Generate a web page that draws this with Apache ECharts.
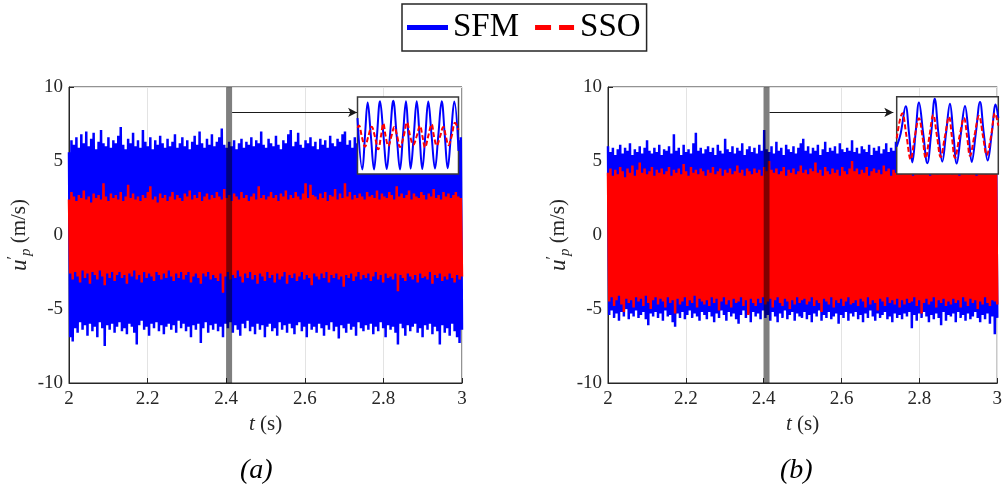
<!DOCTYPE html>
<html>
<head>
<meta charset="utf-8">
<script src="https://cdn.jsdelivr.net/npm/echarts@6/dist/echarts.min.js"></script>
<style>
html,body{margin:0;padding:0;background:#fff;}
#c{width:1005px;height:491px;}
</style>
</head>
<body>
<div id="c"></div>
<script>
// ---------- tick labels ----------
const xTickLabels = ['2', '2.2', '2.4', '2.6', '2.8', '3'];
const yTickLabels = ['-10', '-5', '0', '5', '10'];
const seriesNames = ['SFM', 'SSO'];
const panelLabels = ['(a)', '(b)'];

// time window that is magnified in the insets (s) and arrow level (m/s)
const zoomWindow = [2.4, 2.415];
const arrowLevel = 8.28;
const arrowEndT = 2.733;

// ---------- panel (a): upper / lower peaks of the signal, 160 samples over 2..3 s ----------
const aSFMHi = [5.6,6.4,6.1,6.6,5.9,6.8,6.2,7.0,6.0,6.5,6.9,5.8,6.3,7.1,6.2,6.0,6.6,5.9,6.4,6.2,
6.7,7.3,6.1,5.8,6.5,6.2,6.9,6.0,6.4,5.9,7.1,6.3,6.0,6.6,5.8,6.4,6.1,6.7,6.2,5.9,
6.5,6.0,6.3,6.8,5.9,6.2,6.6,6.0,6.4,5.8,6.3,6.7,6.1,7.0,6.2,5.9,6.5,6.1,6.8,6.0,
6.3,6.6,7.2,6.1,5.9,6.3,6.0,6.4,5.8,6.2,6.5,5.9,6.3,6.1,6.6,6.0,6.4,6.2,7.0,6.1,
5.9,6.5,6.2,6.0,6.7,6.1,5.8,6.4,6.2,6.8,7.1,6.0,6.3,6.9,6.1,5.9,6.4,6.2,6.6,6.0,
6.3,5.8,6.5,6.1,6.4,5.9,6.7,6.2,6.0,6.5,6.3,6.8,7.0,6.1,6.4,5.9,6.6,6.2,6.0,6.5,
6.1,6.7,6.3,5.9,6.4,6.2,6.8,6.0,6.5,6.1,6.3,6.9,6.2,7.1,6.0,6.4,5.8,6.6,6.2,6.9,
6.0,6.5,6.2,6.7,5.9,6.4,6.1,6.8,6.3,7.0,6.2,6.5,6.0,6.6,6.3,5.9,6.7,6.2,6.4,6.6];
const aSFMLo = [-6.9,-7.2,-6.3,-6.6,-5.9,-6.4,-6.1,-6.8,-6.0,-6.5,-6.2,-6.9,-5.9,-6.3,-7.5,-6.1,-6.4,-6.0,-6.6,-6.2,
-5.9,-6.5,-6.3,-6.7,-6.0,-6.2,-6.6,-7.4,-6.1,-5.8,-6.4,-6.2,-6.8,-6.0,-6.3,-5.9,-6.5,-6.1,-6.7,-6.2,
-6.0,-6.4,-6.1,-6.6,-5.8,-6.3,-6.0,-6.5,-6.2,-6.9,-6.1,-6.4,-6.0,-7.3,-6.3,-5.9,-6.6,-6.1,-6.4,-6.0,
-6.5,-6.2,-6.9,-6.0,-6.3,-5.9,-6.6,-6.1,-6.4,-6.8,-6.0,-6.3,-5.8,-6.5,-6.2,-6.7,-6.0,-6.4,-6.1,-6.9,
-6.2,-6.0,-6.5,-6.3,-6.8,-5.9,-6.4,-6.1,-6.6,-6.0,-6.3,-6.7,-6.1,-5.9,-6.5,-6.2,-6.9,-6.0,-6.4,-6.2,
-6.6,-6.0,-6.3,-6.8,-6.1,-6.4,-5.9,-6.5,-6.2,-7.0,-6.1,-6.3,-6.6,-6.0,-6.4,-6.2,-6.8,-5.9,-6.3,-6.5,
-6.1,-6.4,-6.0,-6.7,-6.2,-6.5,-5.9,-6.3,-6.9,-6.1,-6.4,-6.2,-6.6,-7.4,-6.0,-6.3,-6.8,-6.1,-6.5,-6.2,
-6.0,-6.6,-6.3,-6.9,-6.1,-6.4,-6.0,-6.7,-6.2,-6.5,-7.4,-6.1,-6.6,-6.3,-6.8,-6.0,-6.5,-6.9,-7.3,-6.4];
const aSSOHi = [2.4,2.9,2.6,2.3,2.7,2.5,3.0,2.4,2.6,2.2,2.8,2.5,2.7,2.4,3.5,2.6,2.3,2.8,2.5,2.7,
2.4,2.9,2.3,2.6,3.4,2.5,2.8,2.4,2.6,2.3,2.7,2.5,2.9,3.3,2.4,2.6,2.2,2.8,2.5,2.7,
2.3,2.6,2.9,2.4,2.7,2.5,2.3,2.8,2.6,3.0,2.4,2.7,2.5,2.9,2.3,2.6,2.8,2.4,2.7,2.5,
2.9,2.6,2.4,3.1,2.5,2.7,2.3,2.8,2.6,2.4,2.9,2.5,2.7,2.3,2.6,2.8,2.4,3.3,2.5,2.7,
2.4,2.6,2.9,2.5,2.7,2.3,2.8,2.6,3.0,2.4,2.7,2.5,2.9,2.6,2.4,2.8,3.5,2.5,3.4,2.7,
2.6,2.4,2.8,2.5,2.9,2.3,2.7,2.6,3.1,2.4,2.8,2.5,3.5,2.6,2.9,2.4,2.7,2.5,2.8,2.6,
2.4,2.9,2.6,2.7,2.5,3.0,2.4,2.8,2.6,2.5,2.9,2.7,2.4,3.3,2.6,2.8,2.5,2.7,3.0,2.4,
2.8,2.6,2.5,2.9,2.7,2.4,2.8,2.6,3.1,2.5,2.7,2.4,2.9,2.6,2.8,2.5,2.7,2.9,2.6,2.5];
const aSSOLo = [-2.6,-3.0,-2.5,-2.8,-3.2,-2.4,-2.9,-2.6,-3.3,-2.5,-2.7,-3.0,-2.4,-2.8,-3.4,-2.6,-2.9,-2.5,-3.1,-2.7,
-2.5,-2.9,-2.7,-3.3,-2.6,-2.8,-2.4,-3.0,-2.7,-3.2,-2.5,-2.9,-2.6,-2.8,-3.1,-2.5,-2.7,-3.0,-2.6,-2.9,
-2.4,-2.8,-3.1,-2.6,-2.9,-2.5,-3.0,-2.7,-2.5,-3.2,-2.8,-2.6,-2.9,-3.3,-2.6,-2.8,-2.5,-3.0,-2.7,-2.9,
-3.1,-2.6,-3.9,-2.8,-2.5,-3.0,-2.7,-2.9,-2.4,-2.8,-3.2,-2.6,-2.9,-2.5,-3.0,-2.7,-3.3,-2.6,-2.8,-3.1,
-2.5,-2.9,-2.7,-3.2,-2.6,-3.0,-2.8,-2.5,-3.3,-2.7,-2.9,-2.6,-3.1,-2.8,-2.5,-3.0,-2.7,-2.9,-3.4,-2.6,
-2.8,-3.0,-2.6,-2.9,-2.5,-3.2,-2.7,-2.9,-2.6,-3.0,-2.8,-3.5,-2.7,-2.9,-2.6,-3.1,-2.8,-2.5,-3.0,-2.7,
-2.9,-2.6,-3.1,-2.8,-2.5,-3.0,-2.7,-3.2,-2.6,-2.9,-2.8,-3.0,-2.6,-3.8,-2.7,-2.9,-3.1,-2.6,-2.8,-3.0,
-2.7,-3.2,-2.6,-2.9,-2.8,-3.0,-2.5,-3.3,-2.7,-2.9,-2.6,-3.1,-2.8,-3.0,-2.6,-2.9,-3.2,-2.7,-3.0,-2.8];

// ---------- panel (b) ----------
const bSFMHi = [6.0,5.6,5.9,5.4,5.8,6.1,5.5,5.9,5.7,6.2,5.4,5.8,5.6,6.0,5.5,5.9,6.4,5.7,5.5,5.9,
5.6,6.1,5.4,5.8,5.7,6.0,5.5,6.8,5.7,5.9,5.4,6.1,5.6,5.8,5.5,6.2,6.9,5.7,5.9,5.5,
5.8,6.0,5.6,5.9,5.4,6.1,5.7,5.5,6.5,5.8,5.6,6.0,5.5,5.9,5.7,6.2,5.4,5.8,6.0,5.6,
5.9,5.5,6.1,5.7,7.1,5.8,5.6,6.0,5.5,6.3,5.7,5.9,5.4,6.1,5.8,5.6,6.0,5.5,5.9,6.2,
6.5,5.7,6.0,5.5,5.9,5.7,6.1,5.4,5.8,6.3,5.6,5.9,5.7,6.0,5.5,6.2,5.8,5.6,5.9,5.7,
6.4,5.6,5.9,5.5,6.0,5.8,5.6,6.1,5.4,5.9,5.7,6.0,5.5,5.8,6.2,5.6,5.9,5.7,6.3,5.5,
5.8,6.0,5.6,5.9,5.5,6.1,5.7,5.4,5.9,5.6,6.0,5.8,5.5,6.2,5.7,5.9,5.4,5.8,6.0,5.6,
5.9,5.5,6.1,5.7,5.8,5.4,6.0,5.6,5.9,5.5,5.7,6.1,5.6,5.8,5.4,5.9,5.7,6.0,5.5,5.8];
const bSFMLo = [-5.4,-5.1,-5.6,-5.3,-5.8,-5.2,-5.5,-5.0,-5.7,-5.3,-5.5,-5.1,-5.6,-5.4,-5.2,-5.7,-6.1,-5.3,-5.5,-5.2,
-5.6,-5.3,-5.8,-5.1,-5.5,-5.4,-5.9,-6.2,-5.3,-5.6,-5.2,-5.7,-5.4,-5.1,-5.6,-5.3,-5.5,-5.8,-5.2,-5.4,
-5.7,-5.2,-5.5,-5.9,-5.3,-5.6,-5.1,-5.4,-5.8,-5.2,-5.5,-5.3,-5.7,-6.0,-5.4,-5.1,-5.6,-5.3,-5.9,-5.2,
-5.5,-5.3,-5.7,-5.1,-5.6,-5.4,-5.8,-5.2,-5.5,-5.9,-5.3,-5.6,-5.1,-5.7,-5.4,-5.2,-5.8,-5.3,-5.5,-5.6,
-5.2,-5.7,-5.4,-5.9,-5.3,-5.5,-5.1,-5.8,-5.4,-5.6,-5.2,-5.7,-5.5,-5.3,-6.0,-5.4,-5.6,-5.2,-5.8,-5.3,
-5.5,-5.2,-5.7,-5.4,-5.9,-5.3,-5.6,-5.1,-5.5,-5.8,-5.3,-5.6,-5.4,-5.2,-5.7,-5.5,-5.9,-5.3,-5.6,-5.4,
-5.7,-5.3,-5.5,-5.2,-6.3,-5.4,-5.8,-5.3,-5.6,-5.2,-5.5,-5.9,-5.4,-5.7,-5.3,-5.6,-6.1,-5.2,-5.8,-5.4,
-5.5,-5.3,-5.9,-5.2,-5.6,-5.4,-5.8,-5.3,-5.7,-5.5,-5.2,-5.6,-5.9,-5.4,-5.7,-5.3,-6.0,-5.5,-6.7,-5.6];
const bSSOHi = [4.2,4.5,4.0,4.4,4.1,4.6,4.3,3.9,4.5,4.2,4.7,4.0,4.4,4.9,4.2,4.5,4.1,4.3,4.6,4.0,
4.4,4.2,4.5,4.1,4.3,4.6,4.0,4.4,4.2,4.5,4.1,4.8,4.3,4.0,4.6,4.2,4.4,4.1,4.5,4.3,
4.0,4.4,4.2,4.6,4.1,4.3,4.5,4.0,4.4,4.2,4.5,4.1,4.3,4.7,4.2,4.4,4.0,4.5,4.3,4.1,
4.5,4.2,4.4,4.0,4.6,4.3,5.0,4.4,4.2,4.5,4.1,4.3,4.6,4.0,4.4,4.2,4.5,4.1,4.3,4.7,
4.2,4.4,4.1,4.5,4.3,4.9,4.2,4.4,4.0,4.6,4.3,4.1,4.5,4.2,4.4,4.0,4.6,4.3,4.1,4.5,
5.0,4.3,4.5,4.1,4.4,4.2,4.6,4.0,4.3,4.5,4.2,4.4,4.1,4.7,4.3,4.5,4.0,4.4,4.2,4.6,
4.1,4.3,4.5,4.2,4.4,4.0,4.6,4.3,4.1,4.5,4.2,4.4,4.0,4.5,4.3,4.1,4.4,4.2,4.6,4.3,
4.5,4.1,4.3,4.4,4.0,4.5,4.2,4.4,4.1,4.3,4.5,4.0,4.4,4.2,4.6,4.1,4.3,4.5,4.2,4.4];
const bSSOLo = [-4.5,-4.2,-4.8,-4.4,-4.1,-4.7,-5.2,-4.3,-4.6,-4.4,-4.9,-4.2,-4.5,-4.3,-4.8,-4.1,-4.6,-5.0,-4.4,-4.2,
-4.7,-4.3,-4.5,-4.9,-4.2,-4.6,-4.4,-5.3,-4.3,-4.7,-4.5,-4.2,-4.8,-4.4,-4.6,-4.1,-4.9,-4.3,-4.5,-4.7,
-4.4,-4.8,-4.2,-4.6,-4.3,-5.1,-4.5,-4.2,-4.7,-4.4,-4.9,-4.3,-4.6,-4.5,-4.2,-4.8,-4.4,-5.4,-4.3,-4.6,
-4.8,-4.3,-4.6,-4.2,-4.7,-4.5,-4.3,-4.9,-4.4,-4.2,-4.6,-4.8,-4.3,-4.5,-5.0,-4.4,-4.7,-4.2,-4.6,-4.4,
-4.3,-4.7,-4.5,-4.2,-4.8,-4.4,-4.6,-5.2,-4.3,-4.5,-4.7,-4.2,-4.9,-4.4,-4.6,-4.3,-4.8,-4.5,-4.2,-4.7,
-4.6,-4.4,-4.8,-4.3,-4.5,-4.9,-4.2,-4.7,-4.4,-4.6,-5.1,-4.3,-4.5,-4.8,-4.2,-4.6,-4.4,-4.7,-4.3,-4.9,
-4.4,-4.7,-4.3,-4.6,-4.5,-4.2,-4.8,-4.4,-5.3,-4.6,-4.3,-4.7,-4.5,-4.2,-4.9,-4.4,-4.6,-4.3,-4.8,-4.5,
-4.7,-4.3,-4.6,-4.4,-4.9,-4.2,-4.5,-4.8,-4.3,-4.6,-4.4,-5.0,-4.5,-4.7,-4.2,-4.6,-4.8,-4.4,-4.5,-4.7];

// ---------- insets: time in ms after 2.4 s ----------
const insetA_SFM_t = [0,0.67,1.04,1.41,1.85,2.29,2.7,3.12,3.6,4.05,4.5,4.96,5.43,5.89,6.3,6.72,7.05,7.37,7.8,8.21,8.6,8.98,9.4,9.81,10.27,10.74,11.2,11.67,12.1,12.5,12.95,13.42,14];
const insetA_SFM_v = [4.5,-8.8,0,8.6,0,-8.8,0,8.9,0,-8.7,0,9.0,0,-8.8,0,8.9,0,-8.6,0,8.9,0,-8.7,0,8.8,0,-8.6,0,8.9,0,-8.5,0,8.8,-4];
const insetA_SSO_t = [0,0.21,0.6,1.04,1.5,1.97,2.4,2.88,3.25,3.58,3.9,4.27,4.7,5.1,5.5,5.89,6.4,6.86,7.3,7.73,8.2,8.66,9.0,9.36,9.8,10.28,10.6,10.98,11.45,11.89,12.25,12.59,13.05,13.51,14];
const insetA_SSO_v = [2.0,2.6,-0.3,-2.9,-0.2,2.3,-0.2,-3.6,-0.2,3.1,-0.2,-2.7,-0.2,2.2,-0.2,-3.0,-0.2,3.4,-0.2,-2.4,-0.2,2.5,-0.2,-3.1,-0.2,2.9,-0.2,-2.6,-0.2,2.2,-0.2,-2.5,-0.2,3.3,1.5];
const insetB_SFM_t = [0,0.55,1.24,1.7,2.15,2.6,3.07,3.65,4.22,4.75,5.24,5.75,6.28,6.8,7.34,7.8,8.27,8.85,9.41,9.9,10.34,10.9,11.48,12.0,12.54,13.1,13.64,14];
const insetB_SFM_v = [-2.9,0.5,7.5,0.5,-7.0,0.5,8.5,0.5,-7.2,0.5,9.5,0.5,-6.8,0.5,8.2,0.5,-7.3,0.5,7.6,0.5,-6.9,0.5,8.6,0.5,-6.5,0.5,8.0,4.5];
const insetB_SSO_t = [0,0.77,1.35,1.93,2.5,3.07,3.55,4.0,4.5,5.04,5.55,6.06,6.65,7.21,7.6,8.03,8.65,9.27,9.7,10.1,10.7,11.34,11.9,12.4,13.0,13.55,14];
const insetB_SSO_v = [-0.8,5.7,-0.2,-6.2,-0.2,4.4,-0.3,-5.9,-0.3,5.3,-0.2,-5.6,-0.2,4.8,-0.3,-5.8,-0.3,4.5,-0.3,-5.3,-0.2,5.0,-0.3,-5.1,-0.2,5.7,2.5];

// ---------- build tables ----------
function signal(hi, lo) {
  const n = Math.min(hi.length, lo.length);
  const m = 2 * n - 1;
  const out = [];
  for (let i = 0; i < n; i++) {
    out.push([2 + (2 * i) / m, hi[i]]);
    out.push([2 + (2 * i + 1) / m, lo[i]]);
  }
  return out;
}
function pairs(t, v) { return t.map((x, i) => [x, v[i]]); }

const FONT = '"Liberation Serif", "Times New Roman", serif';
const AX = '#262626';
const BLUE = '#0000ff', RED = '#ff0000';

const mainGrids = [
  {left: 69, top: 87, width: 393, height: 296},
  {left: 608, top: 87, width: 393, height: 296}
];
const insetGrids = [
  {left: 357.5, top: 97, width: 101, height: 77},
  {left: 896.7, top: 96.7, width: 101.6, height: 77.3}
];

const grid = [], xAxis = [], yAxis = [], series = [];
mainGrids.forEach((g, k) => {
  grid.push(Object.assign({show: true, borderColor: AX, borderWidth: 1, backgroundColor: 'transparent', z: 0}, g));
  xAxis.push({
    gridIndex: k, type: 'value', min: 2, max: 3, interval: 0.2,
    axisLine: {onZero: false, lineStyle: {color: AX, width: 1}},
    axisTick: {inside: true, length: 5, lineStyle: {color: AX}},
    axisLabel: {margin: 7, color: AX, fontFamily: FONT, fontSize: 19,
      formatter: v => xTickLabels[Math.round((v - 2) / 0.2)]},
    splitLine: {show: true, lineStyle: {color: '#e3e3e3', width: 1}},
    name: '{i|t} (s)', nameLocation: 'middle', nameGap: 31,
    nameTextStyle: {color: AX, fontFamily: FONT, fontSize: 21,
      rich: {i: {fontStyle: 'italic', fontFamily: FONT, fontSize: 21, color: AX}}}
  });
  yAxis.push({
    gridIndex: k, type: 'value', min: -10, max: 10, interval: 5,
    axisLine: {lineStyle: {color: AX, width: 1}},
    axisTick: {inside: true, length: 5, lineStyle: {color: AX}},
    axisLabel: {margin: 6, color: AX, fontFamily: FONT, fontSize: 19,
      formatter: v => yTickLabels[Math.round((v + 10) / 5)]},
    splitLine: {show: true, lineStyle: {color: '#e3e3e3', width: 1}},
    name: '{u|u}{pr|′}{p|p}{n| (m/s)}', nameLocation: 'middle', nameGap: 33, nameRotate: 90,
    nameTextStyle: {color: AX, fontFamily: FONT, fontSize: 21,
      rich: {
        u: {fontStyle: 'italic', fontFamily: FONT, fontSize: 23, lineHeight: 28, color: AX},
        pr: {fontFamily: FONT, fontSize: 16, lineHeight: 18, verticalAlign: 'top', color: AX},
        p: {fontStyle: 'italic', fontFamily: FONT, fontSize: 15, lineHeight: 15, verticalAlign: 'bottom', color: AX},
        n: {fontFamily: FONT, fontSize: 21, lineHeight: 28, color: AX}
      }}
  });
});
insetGrids.forEach((g, k) => {
  grid.push(Object.assign({show: true, borderColor: '#3a3a3a', borderWidth: 1.5, backgroundColor: '#fff', z: 5}, g));
  xAxis.push({gridIndex: 2 + k, type: 'value', min: 0, max: 14, show: false});
  yAxis.push({gridIndex: 2 + k, type: 'value', min: -10, max: 10, show: false});
});

const mainData = [
  [signal(aSFMHi, aSFMLo), signal(aSSOHi, aSSOLo)],
  [signal(bSFMHi, bSFMLo), signal(bSSOHi, bSSOLo)]
];
const insetData = [
  [pairs(insetA_SFM_t, insetA_SFM_v), pairs(insetA_SSO_t, insetA_SSO_v)],
  [pairs(insetB_SFM_t, insetB_SFM_v), pairs(insetB_SSO_t, insetB_SSO_v)]
];

[0, 1].forEach(k => {
  series.push({name: seriesNames[0], type: 'line', xAxisIndex: k, yAxisIndex: k, data: mainData[k][0],
    symbol: 'none', z: 2, lineStyle: {color: BLUE, width: 2.5, join: 'bevel'}, itemStyle: {color: BLUE}});
  series.push({name: seriesNames[1], type: 'line', xAxisIndex: k, yAxisIndex: k, data: mainData[k][1],
    symbol: 'none', z: 3, lineStyle: {color: RED, width: 2.5, join: 'bevel'}, itemStyle: {color: RED}});
  // shaded time window (drawn over the signals)
  series.push({name: 'window', type: 'custom', xAxisIndex: k, yAxisIndex: k, z: 4, silent: true,
    data: [[zoomWindow[0], zoomWindow[1]]], encode: {x: [0, 1]},
    renderItem: (params, api) => {
      const p0 = api.coord([api.value(0), 10]);
      const p1 = api.coord([api.value(1), -10]);
      return {type: 'rect', shape: {x: p0[0], y: p0[1], width: p1[0] - p0[0], height: p1[1] - p0[1]},
        style: {fill: 'rgba(0,0,0,0.5)'}};
    }
  });
  series.push({name: 'arrow', type: 'line', xAxisIndex: k, yAxisIndex: k, data: [], symbol: 'none', z: 4,
    markLine: {silent: true, symbol: ['none', 'arrow'], symbolSize: [7, 9], label: {show: false},
      lineStyle: {color: '#1a1a1a', width: 1.2, type: 'solid'},
      data: [[{coord: [zoomWindow[1], arrowLevel]}, {coord: [arrowEndT, arrowLevel]}]]}
  });
  series.push({name: 'inset SFM', type: 'line', xAxisIndex: 2 + k, yAxisIndex: 2 + k, data: insetData[k][0],
    symbol: 'none', smooth: 0.4, z: 6, lineStyle: {color: BLUE, width: 2}});
  series.push({name: 'inset SSO', type: 'line', xAxisIndex: 2 + k, yAxisIndex: 2 + k, data: insetData[k][1],
    symbol: 'none', smooth: 0.4, z: 7, lineStyle: {color: RED, width: 2, type: [5, 2.5]}});
});

const chart = echarts.init(document.getElementById('c'), null, {renderer: 'canvas'});
chart.setOption({
  animation: false,
  backgroundColor: '#fff',
  textStyle: {fontFamily: FONT},
  title: [
    {text: panelLabels[0], left: 240, top: 457, padding: 0,
      textStyle: {fontFamily: FONT, fontStyle: 'italic', fontWeight: 'normal', fontSize: 28, color: '#000'}},
    {text: panelLabels[1], left: 780, top: 457, padding: 0,
      textStyle: {fontFamily: FONT, fontStyle: 'italic', fontWeight: 'normal', fontSize: 28, color: '#000'}}
  ],
  legend: {
    left: 402, top: 4, orient: 'horizontal', selectedMode: false,
    itemGap: 16, itemWidth: 41, itemHeight: 5, padding: [7, 6, 7, 5],
    borderColor: AX, borderWidth: 1.5,
    textStyle: {fontFamily: FONT, fontSize: 33, color: '#000'},
    data: [
      {name: seriesNames[0], icon: 'rect'},
      {name: seriesNames[1], icon: 'path://M0,0H16V5H0Z M24,0H39V5H24Z'}
    ]
  },
  grid, xAxis, yAxis, series
});
</script>
</body>
</html>
